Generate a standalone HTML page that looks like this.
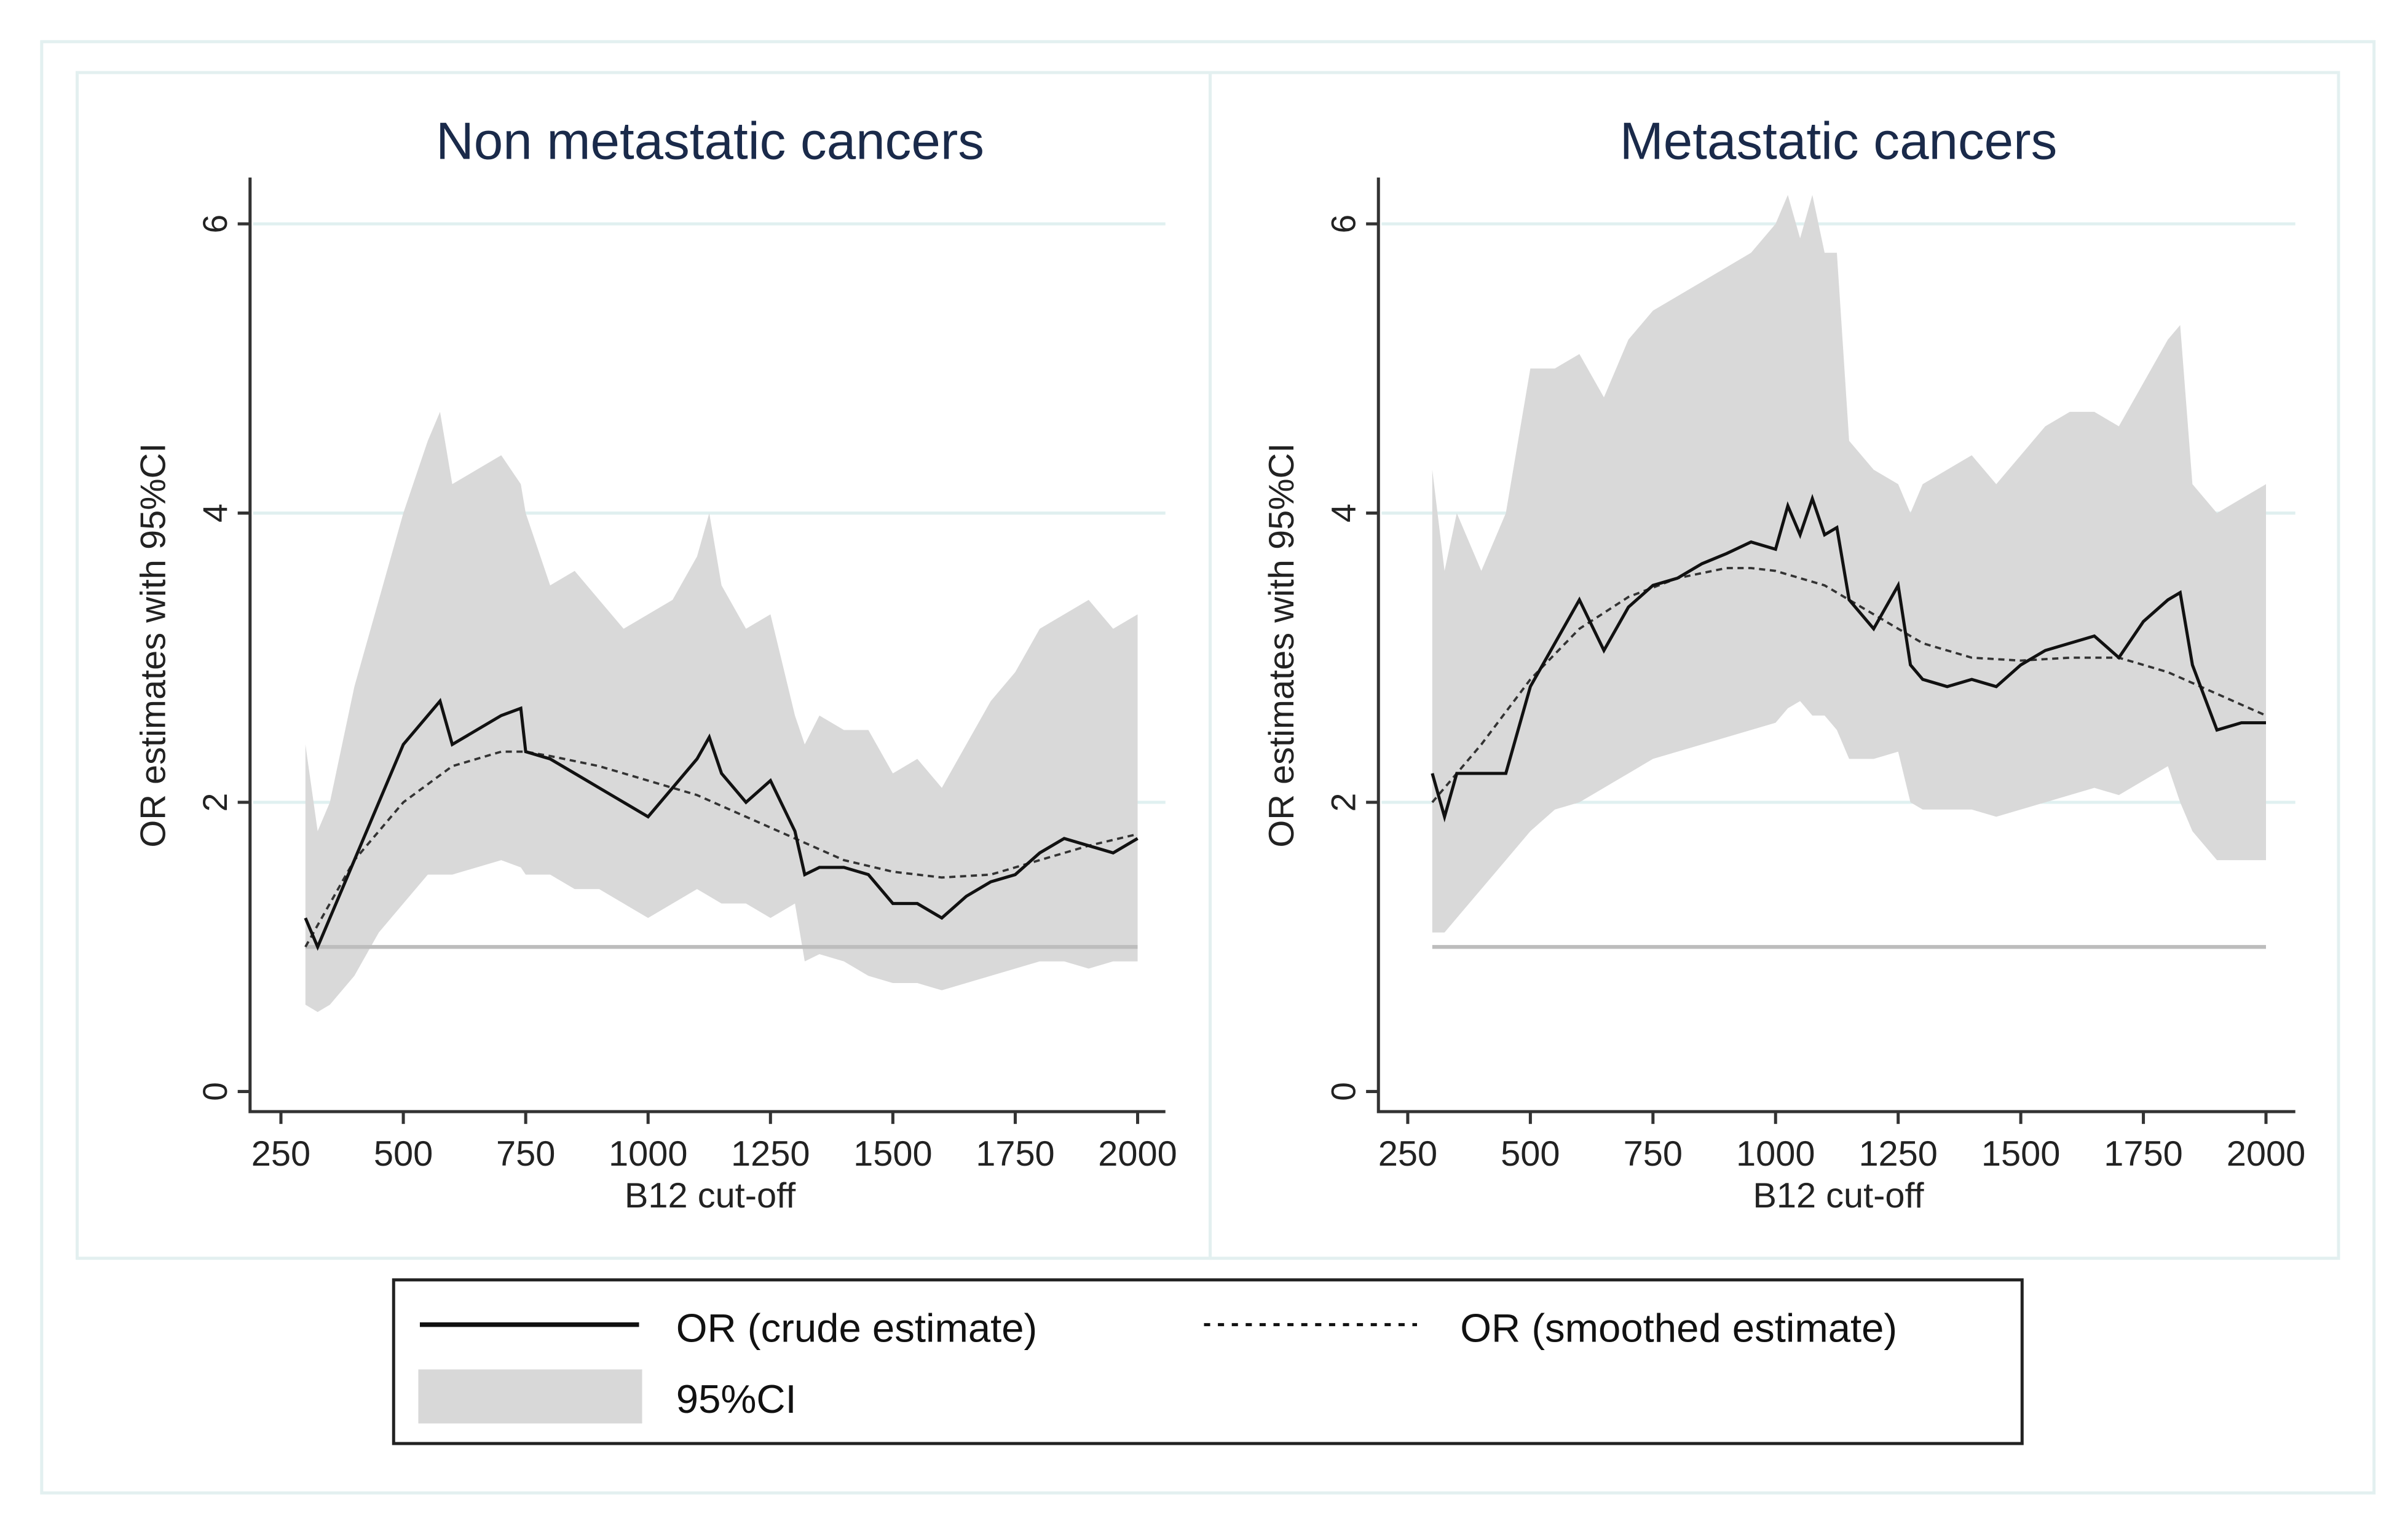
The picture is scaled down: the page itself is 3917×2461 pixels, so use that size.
<!DOCTYPE html>
<html><head><meta charset="utf-8"><style>
html,body{margin:0;padding:0;background:#fff;}
svg{display:block;}
text{font-family:"Liberation Sans",sans-serif;}
</style></head><body>
<svg id="chart" width="3917" height="2461" viewBox="0 0 1560 980" preserveAspectRatio="none" xmlns="http://www.w3.org/2000/svg">
<rect x="0" y="0" width="1560" height="980" fill="#fff"/>
<rect x="27" y="27" width="1511" height="940" fill="none" stroke="#e3f0f0" stroke-width="2"/>
<rect x="50" y="47" width="734" height="768" fill="none" stroke="#e3f0f0" stroke-width="2"/>
<rect x="784" y="47" width="731" height="768" fill="none" stroke="#e3f0f0" stroke-width="2"/>
<g id="panels"></g>
<g>
<rect x="255" y="829" width="1055" height="106" fill="#fff" stroke="#222" stroke-width="2"/>
<line x1="272" y1="858" x2="414" y2="858" stroke="#111" stroke-width="3"/>
<text x="438" y="869" font-size="26" fill="#111">OR (crude estimate)</text>
<line x1="780" y1="858" x2="918" y2="858" stroke="#111" stroke-width="2" stroke-dasharray="4,5"/>
<text x="946" y="869" font-size="26" fill="#111">OR (smoothed estimate)</text>
<rect x="271" y="887" width="145" height="35" fill="#d8d8d8"/>
<text x="438" y="915" font-size="26" fill="#111">95%CI</text>
</g>
</svg>
<script>
// Left panel data (Non metastatic cancers)
const leftX = [300,325,350,400,450,500,550,575,600,650,700,740,750,800,850,900,950,1000,1050,1100,1125,1150,1200,1250,1300,1320,1350,1400,1450,1500,1550,1600,1650,1700,1750,1800,1850,1900,1950,2000];
const leftUpper = [2.4,1.8,2.0,2.8,3.4,4.0,4.5,4.7,4.2,4.3,4.4,4.2,4.0,3.5,3.6,3.4,3.2,3.3,3.4,3.7,4.0,3.5,3.2,3.3,2.6,2.4,2.6,2.5,2.5,2.2,2.3,2.1,2.4,2.7,2.9,3.2,3.3,3.4,3.2,3.3];
const leftLower = [0.6,0.55,0.6,0.8,1.1,1.3,1.5,1.5,1.5,1.55,1.6,1.55,1.5,1.5,1.4,1.4,1.3,1.2,1.3,1.4,1.35,1.3,1.3,1.2,1.3,0.9,0.95,0.9,0.8,0.75,0.75,0.7,0.75,0.8,0.85,0.9,0.9,0.85,0.9,0.9];
const leftCrude = [1.2,1.0,1.2,1.6,2.0,2.4,2.6,2.7,2.4,2.5,2.6,2.65,2.35,2.3,2.2,2.1,2.0,1.9,2.1,2.3,2.45,2.2,2.0,2.15,1.8,1.5,1.55,1.55,1.5,1.3,1.3,1.2,1.35,1.45,1.5,1.65,1.75,1.7,1.65,1.75];
const leftSmoothX = [300,400,500,600,700,750,800,900,1000,1100,1200,1300,1400,1500,1600,1700,1800,1900,2000];
const leftSmooth = [1.0,1.6,2.0,2.25,2.35,2.35,2.32,2.25,2.15,2.05,1.9,1.75,1.6,1.52,1.48,1.5,1.6,1.7,1.78];
// Right panel data (Metastatic cancers)
const rightX = [300,325,350,400,450,500,550,600,650,700,750,800,850,900,950,1000,1025,1050,1075,1100,1125,1150,1200,1250,1275,1300,1350,1400,1450,1500,1550,1600,1650,1700,1750,1800,1825,1850,1900,1950,2000];
const rightUpper = [4.3,3.6,4.0,3.6,4.0,5.0,5.0,5.1,4.8,5.2,5.4,5.5,5.6,5.7,5.8,6.0,6.2,5.9,6.2,5.8,5.8,4.5,4.3,4.2,4.0,4.2,4.3,4.4,4.2,4.4,4.6,4.7,4.7,4.6,4.9,5.2,5.3,4.2,4.0,4.1,4.2];
const rightLower = [1.1,1.1,1.2,1.4,1.6,1.8,1.95,2.0,2.1,2.2,2.3,2.35,2.4,2.45,2.5,2.55,2.65,2.7,2.6,2.6,2.5,2.3,2.3,2.35,2.0,1.95,1.95,1.95,1.9,1.95,2.0,2.05,2.1,2.05,2.15,2.25,2.0,1.8,1.6,1.6,1.6];
const rightCrude = [2.2,1.9,2.2,2.2,2.2,2.8,3.1,3.4,3.05,3.35,3.5,3.55,3.65,3.72,3.8,3.75,4.05,3.85,4.1,3.85,3.9,3.4,3.2,3.5,2.95,2.85,2.8,2.85,2.8,2.95,3.05,3.1,3.15,3.0,3.25,3.4,3.45,2.95,2.5,2.55,2.55];
const rightSmoothX = [300,400,500,600,700,800,900,950,1000,1100,1200,1300,1400,1500,1600,1700,1800,1900,2000];
const rightSmooth = [2.0,2.4,2.85,3.2,3.42,3.55,3.62,3.62,3.6,3.5,3.3,3.1,3.0,2.98,3.0,3.0,2.9,2.75,2.6];
const xTicks = [250,500,750,1000,1250,1500,1750,2000];
const yTicks = [0,2,4,6];

const NS = "http://www.w3.org/2000/svg";
const root = document.getElementById('panels');
function mk(tag, attrs, parent){const e=document.createElementNS(NS,tag);for(const k in attrs)e.setAttribute(k,attrs[k]);(parent||root).appendChild(e);return e;}

function panel(key, title, axisX, x250, x2000, gridRight, titleX, X, U, L, C, SX, S){
  const xs = v => x250 + (v-250)*(x2000-x250)/1750;
  const ys = v => 707 - v*(707-145)/6;
  const g = mk('g',{});
  
  
  yTicks.forEach(t=>{
    if(t>0){
      const gl = mk('line',{x1:axisX+2,x2:gridRight,y1:ys(t),y2:ys(t),stroke:'#e0f0f0','stroke-width':2},g);
      
      
    }
    const tk = mk('line',{x1:axisX-8,x2:axisX,y1:ys(t),y2:ys(t),stroke:'#333','stroke-width':2},g);
    
    
    const tl = mk('text',{x:0,y:0,'font-size':22,fill:'#222','text-anchor':'middle',transform:`translate(${axisX-23},${ys(t)}) rotate(-90)`,dy:8},g);
    tl.textContent = t;
    
    
  });
  let d = '';
  X.forEach((v,i)=>{d += (i?'L':'M')+xs(v)+','+ys(U[i]);});
  for(let i=X.length-1;i>=0;i--) d += 'L'+xs(X[i])+','+ys(L[i]);
  const band = mk('path',{d:d+'Z',fill:'#d9d9d9'},g);
  
  
  const ref = mk('line',{x1:xs(300),x2:xs(2000),y1:ys(1),y2:ys(1),stroke:'#bdbdbd','stroke-width':2.5},g);
  
  
  const sm = mk('polyline',{points:SX.map((v,i)=>xs(v)+','+ys(S[i])).join(' '),fill:'none',stroke:'#333','stroke-width':1.5,'stroke-dasharray':'4,3'},g);
  
  
  const cr = mk('polyline',{points:X.map((v,i)=>xs(v)+','+ys(C[i])).join(' '),fill:'none',stroke:'#111','stroke-width':2},g);
  
  
  const ax = mk('path',{d:`M${axisX},115 L${axisX},720 L${gridRight},720`,fill:'none',stroke:'#333','stroke-width':2},g);
  
  
  xTicks.forEach(t=>{
    const tk = mk('line',{x1:xs(t),x2:xs(t),y1:720,y2:728,stroke:'#333','stroke-width':2},g);
    
    
    const tl = mk('text',{x:xs(t),y:755,'font-size':23,fill:'#222','text-anchor':'middle'},g);
    tl.textContent = t;
    
    
  });
  const xt = mk('text',{x:titleX,y:782,'font-size':23,fill:'#222','text-anchor':'middle'},g);
  xt.textContent = 'B12 cut-off';
  
  
  const yt = mk('text',{x:0,y:0,'font-size':23,fill:'#222','text-anchor':'middle',transform:`translate(${axisX-55},418) rotate(-90)`},g);
  yt.textContent = 'OR estimates with 95%CI';
  
  
  const tt = mk('text',{x:titleX,y:103,'font-size':34,fill:'#1a2a4a','text-anchor':'middle'},g);
  tt.textContent = title;
  
  
}
panel('left','Non metastatic cancers',162,182,737,755,460,leftX,leftUpper,leftLower,leftCrude,leftSmoothX,leftSmooth);
panel('right','Metastatic cancers',893,912,1468,1487,1191,rightX,rightUpper,rightLower,rightCrude,rightSmoothX,rightSmooth);
</script>
</body></html>
